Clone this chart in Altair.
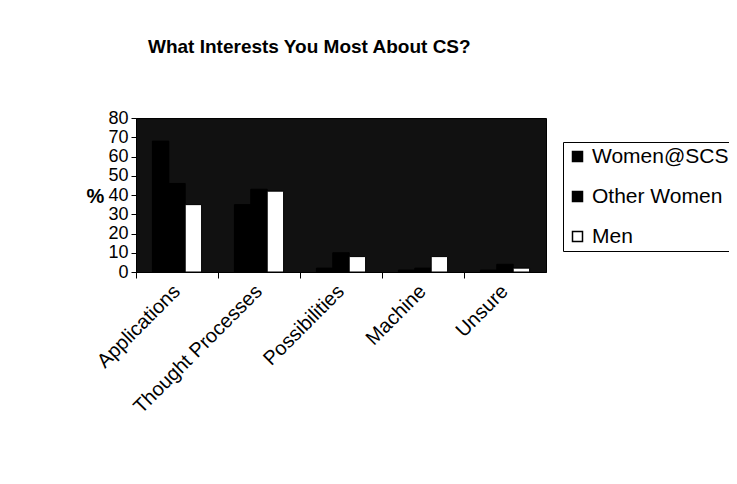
import altair as alt
import pandas as pd

categories = ["Applications", "Thought Processes", "Possibilities", "Machine", "Unsure"]
series = ["Women@SCS", "Other Women", "Men"]
women_scs = [68, 35, 2, 1, 1]
other_women = [46, 43, 10, 2, 4]
men = [35, 42, 8, 8, 2]
colors = ["#000000", "#000000", "#ffffff"]
y_ticks = [0, 10, 20, 30, 40, 50, 60, 70, 80]

rows = []
for name, vals in zip(series, [women_scs, other_women, men]):
    for c, v in zip(categories, vals):
        rows.append({"category": c, "series": name, "value": v})
df = pd.DataFrame(rows)

FONT = "Liberation Sans"

chart = alt.Chart(df).mark_bar(stroke="black", strokeWidth=1).encode(
    x=alt.X("category:N", sort=categories,
            scale=alt.Scale(paddingInner=0, paddingOuter=0),
            axis=alt.Axis(title=None, labelAngle=-45, labelAlign="right",
                          labelBaseline="middle", labelFontSize=20, labelColor="black",
                          labelPadding=10, bandPosition=0, labelLimit=400,
                          tickColor="black", tickSize=6, domainColor="black",
                          labelOverlap=False, labelBound=False, grid=False)),
    xOffset=alt.XOffset("series:N", sort=series,
                        scale=alt.Scale(paddingOuter=1, paddingInner=0)),
    y=alt.Y("value:Q", scale=alt.Scale(domain=[0, 80], nice=False),
            axis=alt.Axis(title="%", values=y_ticks, titleAngle=0, titleFontSize=20,
                          titleFontWeight="bold", titleX=-41, titleY=78,
                          titleAlign="center", titleBaseline="middle",
                          labelFontSize=18, labelColor="black", labelPadding=3,
                          tickColor="black", tickSize=5, domainColor="black",
                          grid=False, labelOverlap=False, labelBound=False)),
    color=alt.Color("series:N", sort=series,
                    scale=alt.Scale(domain=series, range=colors),
                    legend=alt.Legend(title=None, orient="none", legendX=427, legendY=24,
                                      strokeColor="black", fillColor="white", padding=4,
                                      rowPadding=18, labelFontSize=21, labelColor="black",
                                      symbolType="square", symbolSize=100,
                                      symbolStrokeColor="black", symbolStrokeWidth=1.5,
                                      labelOffset=4, cornerRadius=0)),
).properties(
    width=410,
    height=154,
    title=alt.TitleParams("What Interests You Most About CS?", fontSize=19,
                          fontWeight="bold", font=FONT, anchor="start", frame="group",
                          dx=12, offset=52, color="black"),
    autosize=alt.AutoSizeParams(type="none"),
    padding={"left": 128, "top": 110, "right": 183, "bottom": 200},
).configure(
    font=FONT,
    background="white",
).configure_view(
    fill="#111111",
    stroke="black",
    strokeWidth=1,
)

chart.save("out.html", embed_options={"renderer": "svg", "actions": False})
